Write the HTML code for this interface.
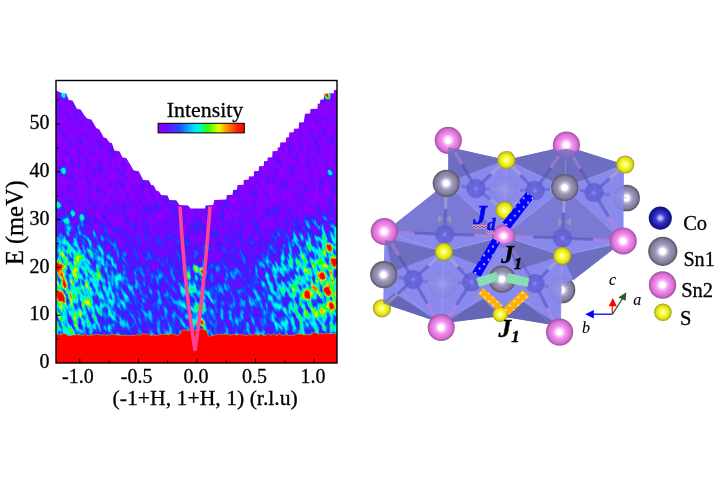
<!DOCTYPE html>
<html><head><meta charset="utf-8"><title>Figure</title>
<style>
html,body{margin:0;padding:0;background:#fff;}
svg{display:block;}
text{font-family:"Liberation Serif",serif;fill:#000;stroke:#000;stroke-width:0.3px;}
</style></head><body>
<svg width="720" height="480" viewBox="0 0 720 480">
<defs>
<radialGradient id="gP" cx="0.5" cy="0.5" r="0.5" fx="0.49" fy="0.5">
<stop offset="0" stop-color="#ffffff"/><stop offset="0.2" stop-color="#ffffff"/><stop offset="0.34" stop-color="#fdb8fa"/><stop offset="0.52" stop-color="#f08cec"/><stop offset="0.8" stop-color="#d870d4"/><stop offset="0.93" stop-color="#b458b0"/><stop offset="1" stop-color="#985498"/></radialGradient>
<radialGradient id="gG" cx="0.5" cy="0.5" r="0.5" fx="0.49" fy="0.5">
<stop offset="0" stop-color="#ffffff"/><stop offset="0.2" stop-color="#ffffff"/><stop offset="0.34" stop-color="#c4bcdc"/><stop offset="0.52" stop-color="#9c94b4"/><stop offset="0.8" stop-color="#857d9d"/><stop offset="0.93" stop-color="#676078"/><stop offset="1" stop-color="#585264"/></radialGradient>
<radialGradient id="gY" cx="0.5" cy="0.5" r="0.5" fx="0.49" fy="0.5">
<stop offset="0" stop-color="#ffffe0"/><stop offset="0.15" stop-color="#ffffa0"/><stop offset="0.35" stop-color="#fbfb38"/><stop offset="0.75" stop-color="#e0e018"/><stop offset="0.92" stop-color="#b0b010"/><stop offset="1" stop-color="#98981c"/></radialGradient>
<radialGradient id="gB" cx="0.5" cy="0.5" r="0.5" fx="0.5" fy="0.5">
<stop offset="0" stop-color="#e4e4ff"/><stop offset="0.14" stop-color="#b0b0fa"/><stop offset="0.4" stop-color="#3c3cd0"/><stop offset="0.75" stop-color="#1a1aa2"/><stop offset="0.93" stop-color="#121286"/><stop offset="1" stop-color="#1c1c88"/></radialGradient>
<linearGradient id="cbar" x1="0" x2="1" y1="0" y2="0">
<stop offset="0" stop-color="#8000ff"/><stop offset="0.08" stop-color="#8000ff"/><stop offset="0.25" stop-color="#2050ff"/><stop offset="0.42" stop-color="#00e0ff"/><stop offset="0.5" stop-color="#00ffb0"/><stop offset="0.58" stop-color="#30ff00"/><stop offset="0.7" stop-color="#e8ff00"/><stop offset="0.8" stop-color="#ff9000"/><stop offset="0.92" stop-color="#ff2000"/><stop offset="1" stop-color="#ff0000"/></linearGradient>
<pattern id="dots" width="5" height="5" patternUnits="userSpaceOnUse"><circle cx="2.5" cy="2.5" r="0.7" fill="#fff"/></pattern>
<pattern id="gdots" width="1.6" height="1.6" patternUnits="userSpaceOnUse"><rect width="1.6" height="1.6" fill="#5fcf97"/><rect width="0.8" height="0.8" fill="#b0ecd0"/><rect x="0.8" y="0.8" width="0.8" height="0.8" fill="#b0ecd0"/></pattern>
<clipPath id="hm"><polygon points="56.00,90.60 62.50,93.50 66.25,93.50 68.75,100.00 72.50,100.60 76.90,108.75 80.60,109.40 84.40,115.60 87.50,118.75 91.25,119.40 96.25,128.00 99.40,129.40 103.75,137.50 106.25,138.10 109.40,142.50 111.90,143.10 114.40,150.60 119.40,151.25 122.50,157.50 126.25,158.10 133.75,170.60 138.75,171.25 143.10,180.00 148.75,180.25 151.25,185.00 153.75,185.60 156.25,190.60 158.75,191.25 161.25,195.00 167.50,195.60 169.40,200.00 176.25,200.25 179.40,205.00 188.10,205.40 190.60,208.50 205.00,208.50 205.60,205.40 213.10,205.00 214.40,200.00 226.25,199.40 226.90,195.00 232.50,194.75 233.10,190.00 236.90,189.75 237.50,185.00 243.50,184.75 243.75,180.00 248.75,179.60 248.75,176.50 253.75,176.25 254.00,171.25 258.75,171.00 259.00,166.25 263.75,166.00 264.00,161.25 267.50,161.00 267.75,157.50 272.25,157.25 272.50,151.25 277.50,151.00 277.75,147.50 280.00,147.25 280.25,142.50 286.00,142.25 286.25,137.50 289.00,137.25 289.25,132.50 293.75,132.25 294.00,128.75 298.75,128.50 299.00,122.50 303.75,122.25 304.40,118.00 305.00,113.75 310.00,113.50 310.60,109.00 317.50,108.75 317.75,103.75 320.00,103.50 320.25,99.75 323.75,99.50 324.00,93.50 333.75,93.25 334.00,90.00 337.00,90.00 337.00,363.00 56.00,363.00"/></clipPath>
</defs>
<rect width="720" height="480" fill="#fff"/>
<defs>
<filter id="nz" x="-40" y="-40" width="480" height="520" filterUnits="userSpaceOnUse" primitiveUnits="userSpaceOnUse" color-interpolation-filters="sRGB">
<feTurbulence type="fractalNoise" baseFrequency="0.25 0.09" numOctaves="2" seed="5" result="t"/>
<feColorMatrix in="t" type="matrix" values="2.0 0 0 0 -0.5  2.0 0 0 0 -0.5  2.0 0 0 0 -0.5  0 0 0 0 1" result="n0"/>
<feComponentTransfer in="n0" result="n"><feFuncR type="gamma" exponent="1.3"/><feFuncG type="gamma" exponent="1.3"/><feFuncB type="gamma" exponent="1.3"/></feComponentTransfer>
<feColorMatrix in="SourceGraphic" type="matrix" values="1 0 0 0 0  1 0 0 0 0  1 0 0 0 0  0 0 0 0 1" result="amp"/>
<feColorMatrix in="SourceGraphic" type="matrix" values="0 1 0 0 0  0 1 0 0 0  0 1 0 0 0  0 0 0 0 1" result="add"/>
<feComposite in="n" in2="amp" operator="arithmetic" k1="1.0" k2="0" k3="0.0" k4="0" result="v1"/>
<feComposite in="v1" in2="add" operator="arithmetic" k1="0" k2="1" k3="1" k4="0" result="v2"/>
<feGaussianBlur in="v2" stdDeviation="0.6" result="v3"/>
<feComponentTransfer in="v3">
<feFuncR type="table" tableValues="0.580 0.536 0.492 0.420 0.320 0.220 0.135 0.050 0.025 0.000 0.000 0.000 0.000 0.000 0.050 0.100 0.400 0.700 0.850 1.000 1.000 1.000 1.000 1.000 1.000 1.000"/>
<feFuncG type="table" tableValues="0.000 0.008 0.016 0.040 0.080 0.120 0.235 0.350 0.535 0.720 0.860 1.000 1.000 1.000 1.000 1.000 1.000 1.000 0.975 0.950 0.750 0.550 0.325 0.100 0.050 0.000"/>
<feFuncB type="table" tableValues="1.000 1.000 1.000 1.000 1.000 1.000 1.000 1.000 1.000 1.000 1.000 1.000 0.775 0.550 0.275 0.000 0.000 0.000 0.000 0.000 0.000 0.000 0.000 0.000 0.000 0.000"/>
</feComponentTransfer>
</filter>
<filter id="sb" x="-40" y="-40" width="480" height="520" filterUnits="userSpaceOnUse"><feGaussianBlur stdDeviation="0.8"/></filter>
<linearGradient id="hv" x1="0" x2="0" y1="90.6" y2="363" gradientUnits="userSpaceOnUse"><stop offset="0.000" stop-color="#260000"/><stop offset="0.263" stop-color="#290000"/><stop offset="0.369" stop-color="#2b0000"/><stop offset="0.474" stop-color="#300500"/><stop offset="0.579" stop-color="#360f00"/><stop offset="0.684" stop-color="#401a00"/><stop offset="0.790" stop-color="#451f00"/><stop offset="0.895" stop-color="#451f00"/><stop offset="1.000" stop-color="#451f00"/></linearGradient>
<radialGradient id="lobe"><stop offset="0" stop-color="#ff4000" stop-opacity="0.6"/><stop offset="0.5" stop-color="#ff4000" stop-opacity="0.4"/><stop offset="1" stop-color="#ff4000" stop-opacity="0"/></radialGradient>
<radialGradient id="lobe2"><stop offset="0" stop-color="#ff3000" stop-opacity="0.32"/><stop offset="0.5" stop-color="#ff3000" stop-opacity="0.2"/><stop offset="1" stop-color="#ff3000" stop-opacity="0"/></radialGradient>
</defs>
<g clip-path="url(#hm)">
<g transform="rotate(-20 196 226)" filter="url(#nz)"><g transform="rotate(20 196 226)">
<rect x="-100" y="-100" width="700" height="700" fill="#260000"/>
<rect x="40" y="80" width="310" height="290" fill="url(#hv)"/>
<ellipse cx="52" cy="283" rx="85" ry="75" fill="url(#lobe)"/>
<ellipse cx="56" cy="290" rx="42" ry="52" fill="url(#lobe2)"/>
<ellipse cx="340" cy="281" rx="90" ry="76" fill="url(#lobe)"/>
<ellipse cx="335" cy="285" rx="45" ry="52" fill="url(#lobe2)"/>
<ellipse cx="195" cy="300" rx="20" ry="50" fill="url(#lobe2)"/>
<g filter="url(#sb)"><ellipse cx="60" cy="296" rx="3.9" ry="6.0" transform="rotate(-20 60 296)" fill="#40ff00"/><ellipse cx="57.5" cy="267" rx="3.3" ry="5.1" transform="rotate(-20 57.5 267)" fill="#40ff00"/><ellipse cx="64" cy="285" rx="2.7" ry="4.1" transform="rotate(-20 64 285)" fill="#40e500"/><ellipse cx="62" cy="274" rx="2.4" ry="3.7" transform="rotate(-20 62 274)" fill="#40cc00"/><ellipse cx="329" cy="248" rx="3.0" ry="4.6" transform="rotate(-20 329 248)" fill="#40ff00"/><ellipse cx="334" cy="263" rx="3.0" ry="4.6" transform="rotate(-20 334 263)" fill="#40ff00"/><ellipse cx="323" cy="276" rx="3.0" ry="4.6" transform="rotate(-20 323 276)" fill="#40ff00"/><ellipse cx="327.5" cy="291.5" rx="3.6" ry="5.5" transform="rotate(-20 327.5 291.5)" fill="#40ff00"/><ellipse cx="307" cy="295" rx="3.0" ry="4.6" transform="rotate(-20 307 295)" fill="#40f200"/><ellipse cx="332" cy="305.6" rx="3.0" ry="4.6" transform="rotate(-20 332 305.6)" fill="#40ff00"/><ellipse cx="327" cy="95.3" rx="2.5" ry="3.9" transform="rotate(-20 327 95.3)" fill="#40f200"/><ellipse cx="63.7" cy="95.3" rx="2.0" ry="3.0" transform="rotate(-20 63.7 95.3)" fill="#408c00"/><ellipse cx="330" cy="172.5" rx="2.2" ry="3.4" transform="rotate(-20 330 172.5)" fill="#407f00"/><ellipse cx="63.7" cy="170.6" rx="2.4" ry="3.7" transform="rotate(-20 63.7 170.6)" fill="#408c00"/><ellipse cx="58.7" cy="205" rx="2.2" ry="3.4" transform="rotate(-20 58.7 205)" fill="#407f00"/><ellipse cx="73" cy="213" rx="2.2" ry="3.4" transform="rotate(-20 73 213)" fill="#407f00"/><ellipse cx="82" cy="217" rx="2.1" ry="3.2" transform="rotate(-20 82 217)" fill="#407f00"/><ellipse cx="66" cy="221" rx="2.1" ry="3.2" transform="rotate(-20 66 221)" fill="#407f00"/><ellipse cx="203" cy="272" rx="2.4" ry="3.7" transform="rotate(-20 203 272)" fill="#40e500"/><ellipse cx="188" cy="276" rx="2.2" ry="3.4" transform="rotate(-20 188 276)" fill="#40b200"/><ellipse cx="196" cy="269" rx="2.1" ry="3.2" transform="rotate(-20 196 269)" fill="#40bf00"/><ellipse cx="201.5" cy="322" rx="2.4" ry="3.7" transform="rotate(-20 201.5 322)" fill="#40f200"/></g>
</g></g>
<polygon points="56.0,364.0 56.0,334.0 58.6,334.3 61.3,335.0 62.9,333.4 66.1,334.0 68.1,335.9 70.5,335.5 73.0,335.0 74.8,335.0 78.0,334.7 81.0,335.1 82.6,335.3 85.3,334.2 86.9,335.6 89.3,335.2 92.6,335.2 95.9,334.4 99.0,334.5 102.4,335.6 104.1,333.7 106.0,335.8 108.4,335.0 110.5,334.7 112.7,334.3 115.4,334.9 118.7,335.1 122.1,335.5 125.6,335.1 127.4,335.6 130.8,335.7 133.5,335.2 135.4,335.5 138.0,334.1 139.7,335.5 143.1,333.6 146.2,334.4 148.0,334.1 151.1,335.6 152.7,334.9 154.3,335.2 156.4,335.6 159.9,334.7 163.4,334.2 165.0,334.9 166.6,333.9 168.9,334.9 170.7,333.5 174.0,334.2 177.4,335.6 179.6,334.6 182.2,330.1 184.9,329.9 187.6,330.9 190.1,329.6 193.1,329.1 195.2,330.9 197.7,329.9 199.2,329.5 201.9,328.6 204.6,330.1 206.2,330.1 208.7,336.5 210.9,336.6 213.8,334.9 215.5,335.1 218.9,334.0 221.3,334.9 223.4,334.3 225.6,334.3 228.3,334.2 230.5,335.3 232.1,334.8 235.0,334.2 237.0,335.4 239.0,333.9 241.3,335.1 243.0,334.2 245.2,335.5 247.6,335.5 249.4,334.2 252.2,335.6 254.6,334.0 256.4,334.7 258.3,335.4 261.4,333.9 263.5,335.4 266.3,335.4 268.5,333.7 270.5,335.4 272.6,334.3 274.9,334.4 277.2,335.7 279.0,333.4 282.4,335.6 285.9,334.5 289.3,335.7 291.3,335.3 294.4,335.1 297.0,334.1 299.1,334.0 300.8,334.0 302.9,334.5 304.4,334.8 307.3,334.8 310.6,334.7 313.3,332.5 316.3,332.9 318.4,334.2 320.9,333.5 324.3,334.0 326.5,333.1 329.7,333.7 332.8,333.4 334.7,333.8 337.0,334.5 337.0,364.0" fill="#ff0000" stroke="#c0e000" stroke-width="0.7" stroke-opacity="0.7"/>
<rect x="56" y="336.5" width="281" height="28" fill="#ff0000"/>
<path d="M180 206.5 C182 240 186.5 300 195 349.5 C203 300 207.5 240 210 206.5" fill="none" stroke="#ff4494" stroke-width="3.6" stroke-linejoin="round"/>
</g>
<g id="axes">
<rect x="56" y="80.5" width="281" height="282.5" fill="none" stroke="#000" stroke-width="1.4"/>
<line x1="56" x2="58.5" y1="339.11" y2="339.11" stroke="#000" stroke-width="1"/><line x1="56" x2="60.5" y1="315.22" y2="315.22" stroke="#000" stroke-width="1"/><line x1="56" x2="58.5" y1="291.33" y2="291.33" stroke="#000" stroke-width="1"/><line x1="56" x2="60.5" y1="267.44" y2="267.44" stroke="#000" stroke-width="1"/><line x1="56" x2="58.5" y1="243.55" y2="243.55" stroke="#000" stroke-width="1"/><line x1="56" x2="60.5" y1="219.66" y2="219.66" stroke="#000" stroke-width="1"/><line x1="56" x2="58.5" y1="195.77" y2="195.77" stroke="#000" stroke-width="1"/><line x1="56" x2="60.5" y1="171.88" y2="171.88" stroke="#000" stroke-width="1"/><line x1="56" x2="58.5" y1="147.99" y2="147.99" stroke="#000" stroke-width="1"/><line x1="56" x2="60.5" y1="124.10" y2="124.10" stroke="#000" stroke-width="1"/><line x1="56" x2="58.5" y1="100.21" y2="100.21" stroke="#000" stroke-width="1"/><line x1="79.80" x2="79.80" y1="363" y2="358.5" stroke="#000" stroke-width="1"/><line x1="109.10" x2="109.10" y1="363" y2="360.5" stroke="#000" stroke-width="1"/><line x1="138.40" x2="138.40" y1="363" y2="358.5" stroke="#000" stroke-width="1"/><line x1="167.70" x2="167.70" y1="363" y2="360.5" stroke="#000" stroke-width="1"/><line x1="197.00" x2="197.00" y1="363" y2="358.5" stroke="#000" stroke-width="1"/><line x1="226.30" x2="226.30" y1="363" y2="360.5" stroke="#000" stroke-width="1"/><line x1="255.60" x2="255.60" y1="363" y2="358.5" stroke="#000" stroke-width="1"/><line x1="284.90" x2="284.90" y1="363" y2="360.5" stroke="#000" stroke-width="1"/><line x1="314.20" x2="314.20" y1="363" y2="358.5" stroke="#000" stroke-width="1"/>
<text x="49.6" y="368.2" font-size="20" text-anchor="end">0</text><text x="49.6" y="320.3" font-size="20" text-anchor="end">10</text><text x="49.6" y="272.5" font-size="20" text-anchor="end">20</text><text x="49.6" y="224.6" font-size="20" text-anchor="end">30</text><text x="49.6" y="176.8" font-size="20" text-anchor="end">40</text><text x="49.6" y="128.9" font-size="20" text-anchor="end">50</text><text x="77.9" y="383.2" font-size="20" text-anchor="middle">-1.0</text><text x="136.7" y="383.2" font-size="20" text-anchor="middle">-0.5</text><text x="196.0" y="383.2" font-size="20" text-anchor="middle">0.0</text><text x="254.6" y="383.2" font-size="20" text-anchor="middle">0.5</text><text x="313.0" y="383.2" font-size="20" text-anchor="middle">1.0</text>
<text x="205.2" y="405" font-size="21.7" text-anchor="middle">(-1+H, 1+H, 1) (r.l.u)</text>
<text transform="translate(23.3 222.7) rotate(-90)" font-size="24.4" text-anchor="middle">E (meV)</text>
<text x="205" y="116.7" font-size="21.9" text-anchor="middle">Intensity</text>
<rect x="158.1" y="123.3" width="86.2" height="9.6" fill="url(#cbar)" stroke="#000" stroke-width="1"/>
</g>
<defs><pattern id="wd" width="8.8" height="8.8" patternUnits="userSpaceOnUse" patternTransform="translate(528.1 193.75)"><circle cx="0" cy="0" r="0.9" fill="#fff"/><circle cx="8.8" cy="0" r="0.9" fill="#fff"/><circle cx="0" cy="8.8" r="0.9" fill="#fff"/><circle cx="8.8" cy="8.8" r="0.9" fill="#fff"/><circle cx="4.4" cy="4.4" r="0.9" fill="#fff"/></pattern><pattern id="wd2" width="8.4" height="8.4" patternUnits="userSpaceOnUse" patternTransform="translate(480.6 293.1)"><circle cx="0" cy="0" r="0.9" fill="#fff"/><circle cx="8.4" cy="0" r="0.9" fill="#fff"/><circle cx="0" cy="8.4" r="0.9" fill="#fff"/><circle cx="8.4" cy="8.4" r="0.9" fill="#fff"/><circle cx="4.2" cy="4.2" r="0.9" fill="#fff"/></pattern><clipPath id="cSTL"><circle cx="448.3" cy="140.3" r="13.7"/></clipPath><clipPath id="cSTR"><circle cx="566.4" cy="145" r="13.7"/></clipPath><clipPath id="cSL"><circle cx="384.3" cy="231.5" r="13.7"/></clipPath><clipPath id="cSC"><circle cx="503.7" cy="236" r="11.5"/></clipPath><clipPath id="cSR"><circle cx="623.2" cy="241" r="13.7"/></clipPath><clipPath id="cSB"><circle cx="441.2" cy="327.5" r="13.7"/></clipPath><clipPath id="cSBR"><circle cx="559.6" cy="332.2" r="13.7"/></clipPath><clipPath id="cSBL"><circle cx="382" cy="308.3" r="9.1"/></clipPath><radialGradient id="gCo"><stop offset="0" stop-color="#9494fa" stop-opacity="0.9"/><stop offset="0.3" stop-color="#6666dc" stop-opacity="0.85"/><stop offset="0.85" stop-color="#5c5cd2" stop-opacity="0.8"/><stop offset="1" stop-color="#5c5cd2" stop-opacity="0.4"/></radialGradient></defs>
<g id="structure">
<circle cx="626.6" cy="198" r="13.3" fill="url(#gG)"/><circle cx="562" cy="290" r="13.3" fill="url(#gG)"/>
<polygon points="448.3,147 506.3,160 566.5,146.3 624,164.5 623.4,241 612,250 573.5,280 561.5,283 561,326 500.3,316.3 441.2,323 383.3,303.5 384.5,232 396.7,225 436,193 448.3,183" fill="#8a8aee"/>
<circle cx="626.6" cy="198" r="13.3" fill="url(#gG)" opacity="0.15"/><circle cx="562" cy="290" r="13.3" fill="url(#gG)" opacity="0.12"/><circle cx="442.5" cy="284.5" r="13.5" fill="url(#gG)" opacity="0.12"/><circle cx="504.5" cy="190" r="13.5" fill="url(#gG)" opacity="0.1"/><polygon points="448.3,147 506.3,160 448.3,183" fill="#6e6ec0"/>
<polygon points="506.3,160 566.5,146.3 564.8,187.5" fill="#6e6ec0"/>
<polygon points="566.5,146.3 624,164.5 564.8,187.5" fill="#6e6ec0"/>
<polygon points="386,238 443.8,251.7 392,272" fill="#6e6ec0"/>
<polygon points="443.8,251.7 500,238 486,268" fill="#6e6ec0"/>
<polygon points="507,238 562.2,255.8 516,270" fill="#6e6ec0"/>
<polygon points="562.2,255.8 620,244 573.5,280" fill="#6e6ec0"/>
<polygon points="383.3,303.5 441.2,323 394,293" fill="#6666b6"/>
<polygon points="441.2,323.5 500.3,316.3 483,299" fill="#6666b6"/>
<polygon points="500.3,316.3 561,326.5 520,300" fill="#6666b6"/>
<polygon points="446.3,183.3 384.5,232 396.7,225 436,193" fill="#7a7ad4"/>
<polygon points="446.3,183.3 384.3,233 503.7,236" fill="#7a7ad4"/>
<polygon points="564.8,187.5 503.7,236 623.2,241" fill="#7a7ad4"/>
<polygon points="438.0,214.8 443.7,219 438.0,223.2" fill="#9696b8" fill-opacity="0.9"/><polygon points="451.0,214.8 445.3,219 451.0,223.2" fill="#9696b8" fill-opacity="0.9"/><polygon points="558.0,217.8 563.7,222 558.0,226.2" fill="#9696b8" fill-opacity="0.9"/><polygon points="571.0,217.8 565.3,222 571.0,226.2" fill="#9696b8" fill-opacity="0.9"/><line x1="446.3" y1="183.3" x2="506.3" y2="160" stroke="#b4b4ec" stroke-width="0.8" stroke-opacity="0.45"/><line x1="506.3" y1="160" x2="564.8" y2="187.5" stroke="#b4b4ec" stroke-width="0.8" stroke-opacity="0.45"/><line x1="564.8" y1="187.5" x2="625.2" y2="164.5" stroke="#b4b4ec" stroke-width="0.8" stroke-opacity="0.45"/><line x1="506.3" y1="160" x2="504.7" y2="210.3" stroke="#b4b4ec" stroke-width="0.8" stroke-opacity="0.45"/><line x1="446.3" y1="183.3" x2="443.8" y2="251.7" stroke="#b4b4ec" stroke-width="0.8" stroke-opacity="0.45"/><line x1="443.8" y1="251.7" x2="384.3" y2="231.5" stroke="#b4b4ec" stroke-width="0.8" stroke-opacity="0.45"/><line x1="443.8" y1="251.7" x2="503.7" y2="236" stroke="#b4b4ec" stroke-width="0.8" stroke-opacity="0.45"/><line x1="503.7" y1="236" x2="562.2" y2="255.8" stroke="#b4b4ec" stroke-width="0.8" stroke-opacity="0.45"/><line x1="562.2" y1="255.8" x2="623.2" y2="241" stroke="#b4b4ec" stroke-width="0.8" stroke-opacity="0.45"/><line x1="564.8" y1="187.5" x2="562.2" y2="255.8" stroke="#b4b4ec" stroke-width="0.8" stroke-opacity="0.45"/><line x1="443.8" y1="251.7" x2="441.2" y2="327.5" stroke="#b4b4ec" stroke-width="0.8" stroke-opacity="0.45"/><line x1="562.2" y1="255.8" x2="559.6" y2="332.2" stroke="#b4b4ec" stroke-width="0.8" stroke-opacity="0.45"/><line x1="383.7" y1="274.7" x2="441.2" y2="327.5" stroke="#b4b4ec" stroke-width="0.8" stroke-opacity="0.45"/><line x1="502" y1="279.2" x2="441.2" y2="327.5" stroke="#b4b4ec" stroke-width="0.8" stroke-opacity="0.45"/><line x1="502" y1="279.2" x2="559.6" y2="332.2" stroke="#b4b4ec" stroke-width="0.8" stroke-opacity="0.45"/><line x1="566.4" y1="145" x2="564.8" y2="187.5" stroke="#b4b4ec" stroke-width="0.8" stroke-opacity="0.45"/><line x1="446.3" y1="183.3" x2="503.7" y2="236" stroke="#b4b4ec" stroke-width="0.8" stroke-opacity="0.45"/><line x1="564.8" y1="187.5" x2="503.7" y2="236" stroke="#b4b4ec" stroke-width="0.8" stroke-opacity="0.45"/><line x1="564.8" y1="187.5" x2="623.2" y2="241" stroke="#b4b4ec" stroke-width="0.8" stroke-opacity="0.45"/>
<line x1="448.3" y1="140.3" x2="462.1" y2="164.4" stroke="#c080dc" stroke-width="3.2" stroke-opacity="0.52"/><line x1="462.1" y1="164.4" x2="476.0" y2="188.5" stroke="#4c4cbc" stroke-width="3.2" stroke-opacity="0.52"/>
<line x1="566.4" y1="145.0" x2="550.7" y2="167.8" stroke="#c080dc" stroke-width="3.2" stroke-opacity="0.52"/><line x1="550.7" y1="167.8" x2="535.0" y2="190.5" stroke="#4c4cbc" stroke-width="3.2" stroke-opacity="0.52"/>
<line x1="566.4" y1="145.0" x2="580.2" y2="168.8" stroke="#c080dc" stroke-width="3.2" stroke-opacity="0.52"/><line x1="580.2" y1="168.8" x2="594.0" y2="192.5" stroke="#4c4cbc" stroke-width="3.2" stroke-opacity="0.52"/>
<line x1="506.3" y1="160.0" x2="491.1" y2="174.2" stroke="#aeaecc" stroke-width="3.2" stroke-opacity="0.52"/><line x1="491.1" y1="174.2" x2="476.0" y2="188.5" stroke="#4c4cbc" stroke-width="3.2" stroke-opacity="0.52"/>
<line x1="506.3" y1="160.0" x2="520.6" y2="175.2" stroke="#aeaecc" stroke-width="3.2" stroke-opacity="0.52"/><line x1="520.6" y1="175.2" x2="535.0" y2="190.5" stroke="#4c4cbc" stroke-width="3.2" stroke-opacity="0.52"/>
<line x1="625.2" y1="164.5" x2="609.6" y2="178.5" stroke="#aeaecc" stroke-width="3.2" stroke-opacity="0.52"/><line x1="609.6" y1="178.5" x2="594.0" y2="192.5" stroke="#4c4cbc" stroke-width="3.2" stroke-opacity="0.52"/>
<line x1="384.3" y1="231.5" x2="414.5" y2="233.0" stroke="#c080dc" stroke-width="3.2" stroke-opacity="0.52"/><line x1="414.5" y1="233.0" x2="444.7" y2="234.5" stroke="#4c4cbc" stroke-width="3.2" stroke-opacity="0.52"/>
<line x1="503.7" y1="236.0" x2="474.2" y2="235.2" stroke="#c080dc" stroke-width="3.2" stroke-opacity="0.52"/><line x1="474.2" y1="235.2" x2="444.7" y2="234.5" stroke="#4c4cbc" stroke-width="3.2" stroke-opacity="0.52"/>
<line x1="503.7" y1="236.0" x2="533.1" y2="237.0" stroke="#c080dc" stroke-width="3.2" stroke-opacity="0.52"/><line x1="533.1" y1="237.0" x2="562.5" y2="238.0" stroke="#4c4cbc" stroke-width="3.2" stroke-opacity="0.52"/>
<line x1="623.2" y1="241.0" x2="592.9" y2="239.5" stroke="#c080dc" stroke-width="3.2" stroke-opacity="0.52"/><line x1="592.9" y1="239.5" x2="562.5" y2="238.0" stroke="#4c4cbc" stroke-width="3.2" stroke-opacity="0.52"/>
<line x1="623.2" y1="241.0" x2="608.6" y2="216.8" stroke="#c080dc" stroke-width="3.2" stroke-opacity="0.52"/><line x1="608.6" y1="216.8" x2="594.0" y2="192.5" stroke="#4c4cbc" stroke-width="3.2" stroke-opacity="0.52"/>
<line x1="384.3" y1="231.5" x2="398.8" y2="255.5" stroke="#c080dc" stroke-width="3.2" stroke-opacity="0.52"/><line x1="398.8" y1="255.5" x2="413.3" y2="279.5" stroke="#4c4cbc" stroke-width="3.2" stroke-opacity="0.52"/>
<line x1="443.8" y1="251.7" x2="428.6" y2="265.6" stroke="#aeaecc" stroke-width="3.2" stroke-opacity="0.52"/><line x1="428.6" y1="265.6" x2="413.3" y2="279.5" stroke="#4c4cbc" stroke-width="3.2" stroke-opacity="0.52"/>
<line x1="443.8" y1="251.7" x2="457.8" y2="266.9" stroke="#aeaecc" stroke-width="3.2" stroke-opacity="0.52"/><line x1="457.8" y1="266.9" x2="471.7" y2="282.0" stroke="#4c4cbc" stroke-width="3.2" stroke-opacity="0.52"/>
<line x1="562.2" y1="255.8" x2="548.6" y2="269.6" stroke="#aeaecc" stroke-width="3.2" stroke-opacity="0.52"/><line x1="548.6" y1="269.6" x2="535.0" y2="283.5" stroke="#4c4cbc" stroke-width="3.2" stroke-opacity="0.52"/>
<line x1="441.2" y1="327.5" x2="427.2" y2="303.5" stroke="#c080dc" stroke-width="3.2" stroke-opacity="0.52"/><line x1="427.2" y1="303.5" x2="413.3" y2="279.5" stroke="#4c4cbc" stroke-width="3.2" stroke-opacity="0.52"/>
<line x1="441.2" y1="327.5" x2="456.4" y2="304.8" stroke="#c080dc" stroke-width="3.2" stroke-opacity="0.52"/><line x1="456.4" y1="304.8" x2="471.7" y2="282.0" stroke="#4c4cbc" stroke-width="3.2" stroke-opacity="0.52"/>
<line x1="559.6" y1="332.2" x2="547.3" y2="307.9" stroke="#c080dc" stroke-width="3.2" stroke-opacity="0.52"/><line x1="547.3" y1="307.9" x2="535.0" y2="283.5" stroke="#4c4cbc" stroke-width="3.2" stroke-opacity="0.52"/>
<line x1="382.0" y1="308.3" x2="397.6" y2="293.9" stroke="#aeaecc" stroke-width="3.2" stroke-opacity="0.52"/><line x1="397.6" y1="293.9" x2="413.3" y2="279.5" stroke="#4c4cbc" stroke-width="3.2" stroke-opacity="0.52"/>
<line x1="446.3" y1="183.3" x2="445.5" y2="208.9" stroke="#aeaecc" stroke-width="3.2" stroke-opacity="0.52"/><line x1="445.5" y1="208.9" x2="444.7" y2="234.5" stroke="#4c4cbc" stroke-width="3.2" stroke-opacity="0.52"/>
<line x1="564.8" y1="187.5" x2="563.6" y2="212.8" stroke="#aeaecc" stroke-width="3.2" stroke-opacity="0.52"/><line x1="563.6" y1="212.8" x2="562.5" y2="238.0" stroke="#4c4cbc" stroke-width="3.2" stroke-opacity="0.52"/>
<line x1="383.7" y1="274.7" x2="398.5" y2="277.1" stroke="#aeaecc" stroke-width="3.2" stroke-opacity="0.4"/><line x1="398.5" y1="277.1" x2="413.3" y2="279.5" stroke="#4c4cbc" stroke-width="3.2" stroke-opacity="0.4"/>
<line x1="502.0" y1="279.2" x2="486.9" y2="280.6" stroke="#aeaecc" stroke-width="3.2" stroke-opacity="0.4"/><line x1="486.9" y1="280.6" x2="471.7" y2="282.0" stroke="#4c4cbc" stroke-width="3.2" stroke-opacity="0.4"/>
<line x1="502.0" y1="279.2" x2="518.5" y2="281.4" stroke="#aeaecc" stroke-width="3.2" stroke-opacity="0.4"/><line x1="518.5" y1="281.4" x2="535.0" y2="283.5" stroke="#4c4cbc" stroke-width="3.2" stroke-opacity="0.4"/>
<line x1="446.3" y1="183.3" x2="461.1" y2="185.9" stroke="#aeaecc" stroke-width="3.2" stroke-opacity="0.4"/><line x1="461.1" y1="185.9" x2="476.0" y2="188.5" stroke="#4c4cbc" stroke-width="3.2" stroke-opacity="0.4"/>
<line x1="564.8" y1="187.5" x2="549.9" y2="189.0" stroke="#aeaecc" stroke-width="3.2" stroke-opacity="0.4"/><line x1="549.9" y1="189.0" x2="535.0" y2="190.5" stroke="#4c4cbc" stroke-width="3.2" stroke-opacity="0.4"/>
<line x1="564.8" y1="187.5" x2="579.4" y2="190.0" stroke="#aeaecc" stroke-width="3.2" stroke-opacity="0.4"/><line x1="579.4" y1="190.0" x2="594.0" y2="192.5" stroke="#4c4cbc" stroke-width="3.2" stroke-opacity="0.4"/>
<line x1="442.5" y1="284.5" x2="427.9" y2="282.0" stroke="#9c9ce0" stroke-width="3.2" stroke-opacity="0.3"/><line x1="427.9" y1="282.0" x2="413.3" y2="279.5" stroke="#4c4cbc" stroke-width="3.2" stroke-opacity="0.3"/>
<line x1="442.5" y1="284.5" x2="457.1" y2="283.2" stroke="#9c9ce0" stroke-width="3.2" stroke-opacity="0.3"/><line x1="457.1" y1="283.2" x2="471.7" y2="282.0" stroke="#4c4cbc" stroke-width="3.2" stroke-opacity="0.3"/>
<line x1="562.0" y1="290.0" x2="548.5" y2="286.8" stroke="#9c9ce0" stroke-width="3.2" stroke-opacity="0.3"/><line x1="548.5" y1="286.8" x2="535.0" y2="283.5" stroke="#4c4cbc" stroke-width="3.2" stroke-opacity="0.3"/>
<line x1="504.5" y1="190.0" x2="490.2" y2="189.2" stroke="#9c9ce0" stroke-width="3.2" stroke-opacity="0.3"/><line x1="490.2" y1="189.2" x2="476.0" y2="188.5" stroke="#4c4cbc" stroke-width="3.2" stroke-opacity="0.3"/>
<line x1="504.5" y1="190.0" x2="519.8" y2="190.2" stroke="#9c9ce0" stroke-width="3.2" stroke-opacity="0.3"/><line x1="519.8" y1="190.2" x2="535.0" y2="190.5" stroke="#4c4cbc" stroke-width="3.2" stroke-opacity="0.3"/>
<line x1="626.6" y1="198.0" x2="610.3" y2="195.2" stroke="#9c9ce0" stroke-width="3.2" stroke-opacity="0.3"/><line x1="610.3" y1="195.2" x2="594.0" y2="192.5" stroke="#4c4cbc" stroke-width="3.2" stroke-opacity="0.3"/>
<line x1="443.8" y1="251.7" x2="444.2" y2="243.1" stroke="#aeaecc" stroke-width="3.2" stroke-opacity="0.4"/><line x1="444.2" y1="243.1" x2="444.7" y2="234.5" stroke="#4c4cbc" stroke-width="3.2" stroke-opacity="0.4"/>
<line x1="562.2" y1="255.8" x2="562.4" y2="246.9" stroke="#aeaecc" stroke-width="3.2" stroke-opacity="0.4"/><line x1="562.4" y1="246.9" x2="562.5" y2="238.0" stroke="#4c4cbc" stroke-width="3.2" stroke-opacity="0.4"/>
<line x1="504.7" y1="210.3" x2="490.4" y2="199.4" stroke="#aeaecc" stroke-width="3.2" stroke-opacity="0.4"/><line x1="490.4" y1="199.4" x2="476.0" y2="188.5" stroke="#4c4cbc" stroke-width="3.2" stroke-opacity="0.4"/>
<line x1="504.7" y1="210.3" x2="519.9" y2="200.4" stroke="#aeaecc" stroke-width="3.2" stroke-opacity="0.4"/><line x1="519.9" y1="200.4" x2="535.0" y2="190.5" stroke="#4c4cbc" stroke-width="3.2" stroke-opacity="0.4"/>
<line x1="503.7" y1="236.0" x2="487.7" y2="259.0" stroke="#c080dc" stroke-width="3.2" stroke-opacity="0.35"/><line x1="487.7" y1="259.0" x2="471.7" y2="282.0" stroke="#4c4cbc" stroke-width="3.2" stroke-opacity="0.35"/>
<line x1="503.7" y1="236.0" x2="519.4" y2="259.8" stroke="#c080dc" stroke-width="3.2" stroke-opacity="0.35"/><line x1="519.4" y1="259.8" x2="535.0" y2="283.5" stroke="#4c4cbc" stroke-width="3.2" stroke-opacity="0.35"/>
<circle cx="476" cy="188.5" r="10" fill="url(#gCo)"/><circle cx="535" cy="190.5" r="10" fill="url(#gCo)"/><circle cx="594" cy="192.5" r="10" fill="url(#gCo)"/><circle cx="444.7" cy="234.5" r="10" fill="url(#gCo)"/><circle cx="562.5" cy="238" r="10" fill="url(#gCo)"/><circle cx="413.3" cy="279.5" r="10" fill="url(#gCo)"/><circle cx="471.7" cy="282" r="10" fill="url(#gCo)"/><circle cx="535" cy="283.5" r="10" fill="url(#gCo)"/>
<circle cx="448.3" cy="140.3" r="13.6" fill="url(#gP)"/><circle cx="566.4" cy="145" r="13.6" fill="url(#gP)"/><circle cx="384.3" cy="231.5" r="13.6" fill="url(#gP)"/><circle cx="503.7" cy="236" r="11.4" fill="url(#gP)"/><circle cx="623.2" cy="241" r="13.6" fill="url(#gP)"/><circle cx="441.2" cy="327.5" r="13.6" fill="url(#gP)"/><circle cx="559.6" cy="332.2" r="13.6" fill="url(#gP)"/><circle cx="446.3" cy="183.3" r="13.6" fill="url(#gG)"/><circle cx="564.8" cy="187.5" r="13.6" fill="url(#gG)"/><circle cx="383.7" cy="274.7" r="13.6" fill="url(#gG)"/><circle cx="502" cy="279.2" r="13.6" fill="url(#gG)"/><circle cx="506.3" cy="160" r="9.1" fill="url(#gY)"/><circle cx="625.2" cy="164.5" r="9.1" fill="url(#gY)"/><circle cx="504.7" cy="210.3" r="9.1" fill="url(#gY)"/><circle cx="443.8" cy="251.7" r="9.1" fill="url(#gY)"/><circle cx="562.2" cy="255.8" r="9.1" fill="url(#gY)"/><circle cx="382" cy="308.3" r="9.1" fill="url(#gY)"/><circle cx="500.3" cy="314.2" r="7.7" fill="url(#gY)"/>
<g clip-path="url(#cSTL)"><polygon points="448.3,147 506.3,160 448.3,183" fill="#6e6ec0" fill-opacity="0.72"/>
</g><g clip-path="url(#cSL)"><polygon points="385,240 443.8,251.7 385,272" fill="#6e6ec0" fill-opacity="0.72"/>
</g><g clip-path="url(#cSBL)"><polygon points="383.3,303.5 441.2,323 383.3,280" fill="#6e6ec0" fill-opacity="0.72"/>
</g><g clip-path="url(#cSC)"><polygon points="490,239.5 503.7,243.8 517,239.8 517,250 490,250" fill="#7a7ad4" fill-opacity="0.85"/>
</g><g clip-path="url(#cSTR)"><polygon points="506.3,160 566.5,148.8 624,164.5 564.8,187.5" fill="#6e6ec0" fill-opacity="0.8"/>
</g>
<g><polygon points="526.25,191.9 534,197.5 510,228.75 502.5,222.5" fill="#0000ff"/>
<polygon points="526.25,191.9 534,197.5 510,228.75 502.5,222.5" fill="url(#wd)"/>
<polygon points="492.5,238.5 500,242.5 480.6,276.9 472.25,272.25" fill="#0000ff"/>
<polygon points="492.5,238.5 500,242.5 480.6,276.9 472.25,272.25" fill="url(#wd)"/>
<polygon points="483.1,288.1 502.5,305 497.75,310.25 478.1,294" fill="#ffb000"/>
<polygon points="483.1,288.1 502.5,305 497.75,310.25 478.1,294" fill="url(#wd2)"/>
<polygon points="522.75,290 529.4,296.25 508.75,315 502.75,309" fill="#ffb000"/>
<polygon points="522.75,290 529.4,296.25 508.75,315 502.75,309" fill="url(#wd2)"/>
<polygon points="476.25,278.1 496.25,271.9 499,280.6 479,286.9" fill="url(#gdots)"/>
<polygon points="508.1,273.1 529.4,278.1 527.5,286.9 506.25,282.5" fill="url(#gdots)"/>
</g>
<text x="473.3" y="223.8" font-size="27.5" font-style="italic" font-weight="bold" style="fill:#0505f5;stroke:#0505f5;stroke-width:0.6px">J<tspan font-size="17" dy="6.6">d</tspan></text>
<path d="M473 227 q1 -2 2 0 t2 0 t2 0 t2 0 t2 0 t2 0 t2 0" fill="none" stroke="#fff" stroke-opacity="0.6" stroke-width="1.8"/><path d="M473 227 q1 -2 2 0 t2 0 t2 0 t2 0 t2 0 t2 0 t2 0" fill="none" stroke="#e81818" stroke-width="1"/><path d="M486.5 232.3 q1 -2 2 0 t2 0 t2 0 t2 0" fill="none" stroke="#fff" stroke-opacity="0.6" stroke-width="1.8"/><path d="M486.5 232.3 q1 -2 2 0 t2 0 t2 0 t2 0" fill="none" stroke="#e81818" stroke-width="1"/>
<text x="501" y="263.2" font-size="25.5" font-style="italic" font-weight="bold" style="stroke-width:0.4px">J<tspan font-size="17" dy="5.3">1</tspan></text>
<text x="498.5" y="336.7" font-size="25.5" font-style="italic" font-weight="bold" style="stroke-width:0.4px">J<tspan font-size="17" dy="5.3">1</tspan></text>
<circle cx="660.3" cy="218.1" r="11.6" fill="url(#gB)"/><circle cx="662.8" cy="251.3" r="14.6" fill="url(#gG)"/><circle cx="662.5" cy="285" r="13.7" fill="url(#gP)"/><circle cx="662.9" cy="312.3" r="8.8" fill="url(#gY)"/>
<text x="683.2" y="230.4" font-size="20.5">Co</text><text x="683.4" y="266.3" font-size="20.2">Sn1</text><text x="681.2" y="296.7" font-size="20.5">Sn2</text><text x="680" y="325.3" font-size="20.5">S</text>
<g><line x1="612.5" y1="314.2" x2="592" y2="314.2" stroke="#0000ff" stroke-width="1.3"/><polygon points="585.3,314.2 593.8,310 593.8,318.4" fill="#0000ff"/><path d="M612.5 314.2 Q611.5 309 612.8 305" stroke="#ff0000" stroke-width="1.1" fill="none"/><polygon points="612.8,298 608.8,306.2 616.8,306.2" fill="#ff0000"/><line x1="612.5" y1="314.2" x2="622.5" y2="298.5" stroke="#2d5a27" stroke-width="1.3"/><polygon points="626.3,292.2 618.3,297.5 625.6,300.8" fill="#2d5a27"/></g>
<text x="609" y="285.2" font-size="16" font-style="italic" style="stroke-width:0.1px">c</text><text x="633.3" y="304.6" font-size="16" font-style="italic" style="stroke-width:0.1px">a</text><text x="582" y="332.6" font-size="16" font-style="italic" style="stroke-width:0.1px">b</text>
</g>
</svg>
</body></html>
